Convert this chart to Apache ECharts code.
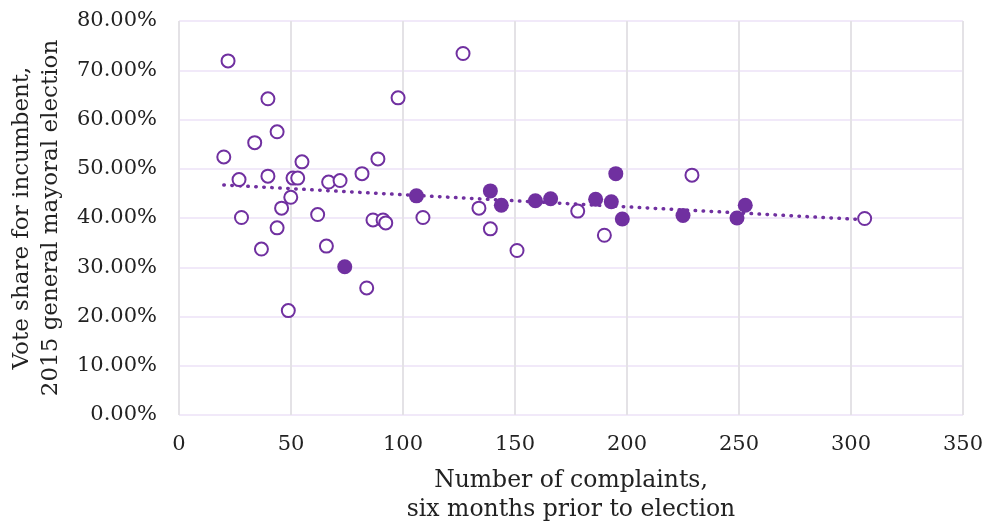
<!DOCTYPE html>
<html><head><meta charset="utf-8">
<script src="https://cdn.jsdelivr.net/npm/echarts@6/dist/echarts.min.js"></script>
<style>html,body{margin:0;padding:0;background:#fff}#c{width:986px;height:525px}</style>
</head><body><div id="c"></div>
<script>
// Hollow markers: [complaints, vote share %]
const hollowX = [21.9,126.8,39.7,97.8,33.8,43.8,20.0,54.9,88.8,26.8,39.7,50.9,53.0,66.8,71.9,81.7,229.0,49.9,45.8,27.9,61.9,43.8,86.6,91.1,92.3,108.9,133.9,139.0,178.0,189.9,150.9,36.8,65.8,48.8,83.8,306.1];
const hollowY = [71.9,73.4,64.2,64.4,55.3,57.5,52.4,51.4,52.0,47.8,48.5,48.1,48.1,47.3,47.6,49.0,48.7,44.2,42.0,40.1,40.7,38.0,39.6,39.6,39.0,40.1,42.0,37.8,41.4,36.5,33.4,33.7,34.3,21.2,25.8,39.9];
// Filled markers
const filledX = [74.0,106.0,139.0,143.9,159.1,165.9,186.0,193.0,195.0,197.9,225.0,249.1,252.8];
const filledY = [30.1,44.5,45.5,42.6,43.5,43.9,43.8,43.3,49.0,39.8,40.5,40.0,42.6];
// Trend line endpoints
const trendX = [20, 304];
const trendY = [46.7, 39.7];
const xTicks = [0,50,100,150,200,250,300,350];
const yTicks = [0,10,20,30,40,50,60,70,80];

const purple = '#7030A0';
const font = 'DejaVu Serif';
const chart = echarts.init(document.getElementById('c'), null, {renderer:'canvas'});
chart.setOption({
  animation:false,
  backgroundColor:'#fff',
  grid:{left:179,right:23,top:21,bottom:110,containLabel:false,outerBoundsMode:'none'},
  xAxis:{type:'value',min:xTicks[0],max:xTicks[xTicks.length-1],interval:50,
    axisLine:{show:false},axisTick:{show:false},
    splitLine:{show:true,lineStyle:{color:'#e4e2e6',width:2}},
    axisLabel:{color:'#222',fontFamily:font,fontSize:21,margin:19},
    name:'Number of complaints,\nsix months prior to election',nameLocation:'middle',nameGap:51,
    nameTextStyle:{color:'#222',fontFamily:font,fontSize:23.5,lineHeight:29}
  },
  yAxis:{type:'value',min:yTicks[0],max:yTicks[yTicks.length-1],interval:10,
    axisLine:{show:false},axisTick:{show:false},
    splitLine:{show:true,lineStyle:{color:'#f1e9f9',width:2}},
    axisLabel:{color:'#222',fontFamily:font,fontSize:21,margin:22,formatter:v=>v.toFixed(2)+'%'},
    name:'Vote share for incumbent,\n2015 general mayoral election',nameLocation:'middle',nameGap:110,
    nameTextStyle:{color:'#222',fontFamily:font,fontSize:23,lineHeight:29}
  },
  series:[
    {type:'line',data:trendX.map((x,i)=>[x,trendY[i]]),showSymbol:false,symbol:'none',
     lineStyle:{color:purple,width:3.5,type:[0.5,7.5],cap:'round'},z:1},
    {type:'scatter',data:hollowX.map((x,i)=>[x,hollowY[i]]),symbol:'circle',symbolSize:13,
     itemStyle:{color:'#fff',borderColor:purple,borderWidth:2,opacity:1},z:2},
    {type:'scatter',data:filledX.map((x,i)=>[x,filledY[i]]),symbol:'circle',symbolSize:15,
     itemStyle:{color:purple,opacity:1},z:3}
  ]
});
</script></body></html>
